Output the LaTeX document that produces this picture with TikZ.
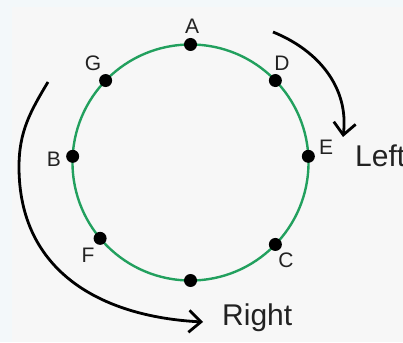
\documentclass[tikz,border=0pt]{standalone}
\usepackage{fontspec}
\setmainfont{Liberation Sans}
\usetikzlibrary{arrows.meta,calc}
\definecolor{ringgreen}{HTML}{22A05E}
\definecolor{bggray}{HTML}{F7F7F7}
\definecolor{bgblue}{HTML}{F3F8FA}
\definecolor{txt}{HTML}{222222}
\begin{document}
\begin{tikzpicture}[x=1pt,y=1pt,
  dot/.style={circle,fill=black,inner sep=0pt,minimum size=13pt},
  lbl/.style={text=txt,inner sep=0pt,font=\fontsize{21}{24}\selectfont},
  biglbl/.style={text=txt,inner sep=0pt,anchor=base west,font=\fontsize{30}{34}\selectfont},
  turn/.style={line width=2.8pt,-{Straight Barb[length=12pt,width=22pt]}}]
\useasboundingbox (0,0) rectangle (403,342);
\fill[bgblue] (0,0) rectangle (403,342);
\fill[bggray] (12,0) rectangle (403,335);
\coordinate (O) at (190.5,179.5);
\draw[ringgreen,line width=2.4pt] (O) circle[radius=118pt];
\node[dot] (pa) at ($(O)+(90:118pt)$) {};
\node[dot] (pd) at ($(O)+(44:118pt)$) {};
\node[dot] (pe) at ($(O)+(3:118pt)$) {};
\node[dot] (pc) at ($(O)+(-44:118pt)$) {};
\node[dot] (pbot) at ($(O)+(-90:118pt)$) {};
\node[dot] (pf) at ($(O)+(220:118pt)$) {};
\node[dot] (pb) at ($(O)+(177:118pt)$) {};
\node[dot] (pg) at ($(O)+(136:118pt)$) {};
\node[lbl] (la) at (192,316) {A};
\node[lbl] (lg) at (93,279) {G};
\node[lbl] (ld) at (282,279) {D};
\node[lbl] (le) at (326,195) {E};
\node[lbl] (lb) at (54,183) {B};
\node[lbl] (lf) at (88,87) {F};
\node[lbl] (lc) at (286,82) {C};
\node[biglbl] (left) at (355,175) {Left};
\node[biglbl] (right) at (222,17) {Right};
\coordinate (ls) at (273,310);
\coordinate (le) at (343,205);
\draw[turn] (ls) to[out=-22,in=83] (le);
\coordinate (rs) at (48,260);
\coordinate (rm) at (19,175);
\coordinate (re) at (203,20);
\draw[turn] (rs) to[out=-121,in=90] (rm) to[out=-90,in=177,looseness=1.1] (re);
\end{tikzpicture}
\end{document}
